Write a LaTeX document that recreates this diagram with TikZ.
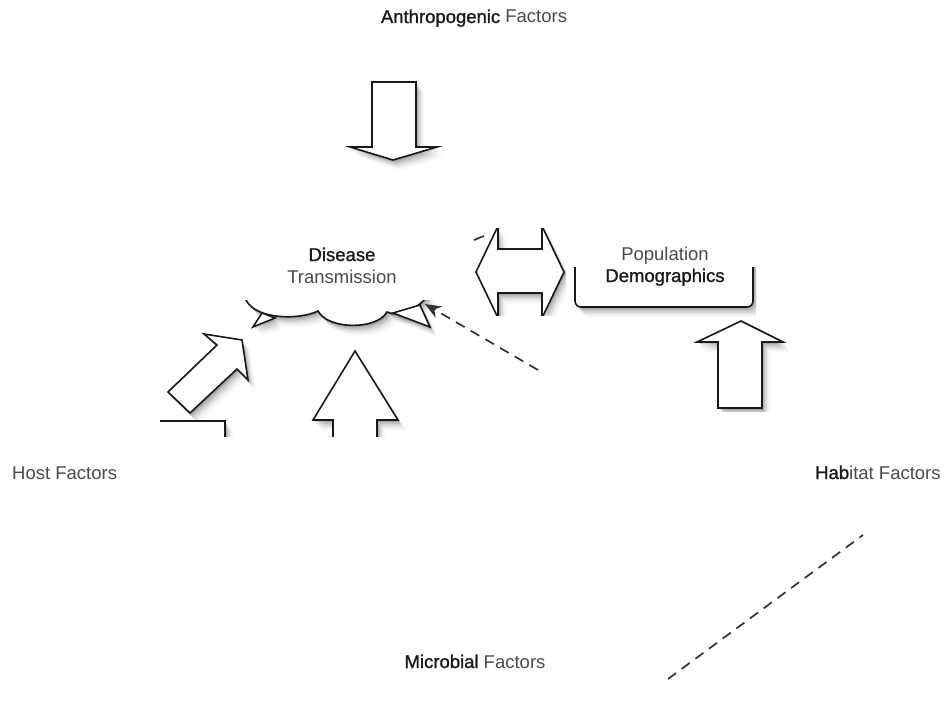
\documentclass[tikz,border=0pt]{standalone}
\usepackage{fontspec}
\setmainfont{Liberation Sans}
\newfontfamily\semibold[FakeBold=1.2]{Liberation Sans}
\usetikzlibrary{arrows.meta}
\definecolor{txtgray}{HTML}{4A4A4A}
\definecolor{txtdark}{HTML}{1A1A1A}
\newcommand{\dk}[1]{{\semibold\color{txtdark}#1}}
\tikzset{
  shd/.style={
    preaction={fill=black,opacity=0.14,transform canvas={shift={(1.5pt,-2pt)}}},
    preaction={fill=black,opacity=0.10,transform canvas={shift={(3pt,-4pt)}}},
    preaction={fill=black,opacity=0.08,transform canvas={shift={(4.5pt,-6pt)}}},
    preaction={fill=black,opacity=0.05,transform canvas={shift={(6pt,-8pt)}}},
    preaction={fill=black,opacity=0.03,transform canvas={shift={(8pt,-10pt)}}}},
  shp/.style={draw=black!90, line width=1.6pt, fill=white, line join=miter, shd},
  lbl/.style={inner sep=0pt, anchor=base, text=txtgray, font=\fontsize{18.5}{23}\selectfont},
  dashln/.style={draw=black!80, line width=1.7pt, dash pattern=on 10pt off 7pt}
}
\begin{document}
\begin{tikzpicture}[x=1pt,y=-1pt]
\useasboundingbox (0,0) rectangle (945,706);
\fill[white] (0,0) rectangle (945,706);

% down arrow (anthropogenic)
\begin{scope}
\clip (344,78) rectangle (445,170);
\path[shp] (372,82) -- (416,82) -- (416,147) -- (437,147) -- (393,160) -- (350,147) -- (372,147) -- cycle;
\end{scope}

% cloud fragment
\begin{scope}
\clip (240,300) rectangle (440,345);
\path[shp] (240,280) -- (246,300) .. controls (256,320) and (300,320) .. (318,311)
  .. controls (328,330) and (377,330) .. (387,312)
  .. controls (400,318) and (415,310) .. (426,298) -- (426,280) -- cycle;
\path[shp] (262,313) -- (253,327) -- (275,318) -- cycle;
\path[shp] (393,313) -- (420,305) -- (430,327) -- cycle;
\end{scope}

% dashed arrow into cloud
\coordinate (dstart) at (538,370);
\coordinate (dend) at (425,304);
\draw[dashln, -{Stealth[length=16pt,width=13pt]}] (dstart) -- (dend);
\coordinate (dpa) at (474,240);
\coordinate (dpb) at (484,236);
\draw[black!80, line width=1.7pt] (dpa) -- (dpb);

% double arrow fragment
\begin{scope}
\clip (474,228) rectangle (566,315);
\path[shp] (476,272) -- (498,226) -- (498,249) -- (542,249) -- (542,226) -- (564,272)
  -- (542,318) -- (542,293) -- (498,293) -- (498,318) -- cycle;
\end{scope}

% population demographics box fragment
\begin{scope}
\clip (572,267) rectangle (756,322);
\path[shp, rounded corners=6pt] (575,200) rectangle (753,307);
\end{scope}

% right up arrow
\begin{scope}
\clip (690,315) rectangle (788,411);
\path[shp] (741,321) -- (783,342) -- (762,342) -- (762,408) -- (718,408) -- (718,342) -- (697,342) -- cycle;
\end{scope}

% left diagonal arrow
\path[shp] (242,340) -- (204,334) -- (217,345) -- (168,392) -- (190,413) -- (237,369) -- (248,380) -- cycle;

% partial box below diagonal arrow
\begin{scope}
\clip (160,415) rectangle (240,436);
\path[shp] (140,421) -- (225,421) -- (225,460) -- (140,460);
\end{scope}

% middle up arrow
\begin{scope}
\clip (305,345) rectangle (410,436);
\path[shp] (355,351) -- (398,420) -- (377,420) -- (377,460) -- (333,460) -- (333,420) -- (313,420) -- cycle;
\end{scope}

% lower right dashed line
\coordinate (lra) at (668,679);
\coordinate (lrb) at (863,535);
\draw[dashln] (lra) -- (lrb);

% labels
\node[lbl] (anthro) at (474,23) {\dk{Anthropogenic} Factors};
\node[lbl] (disease) at (342,261) {\dk{Disease}};
\node[lbl] (transm) at (342,283) {Transmission};
\node[lbl] (popul) at (665,260) {Population};
\node[lbl] (demog) at (665,282) {\dk{Demographics}};
\node[lbl,anchor=base west] (host) at (12,479) {Host Factors};
\node[lbl,anchor=base west] (habitat) at (815,479) {\dk{Hab}itat Factors};
\node[lbl] (microb) at (475,668) {\dk{Microbial} Factors};
\end{tikzpicture}
\end{document}
